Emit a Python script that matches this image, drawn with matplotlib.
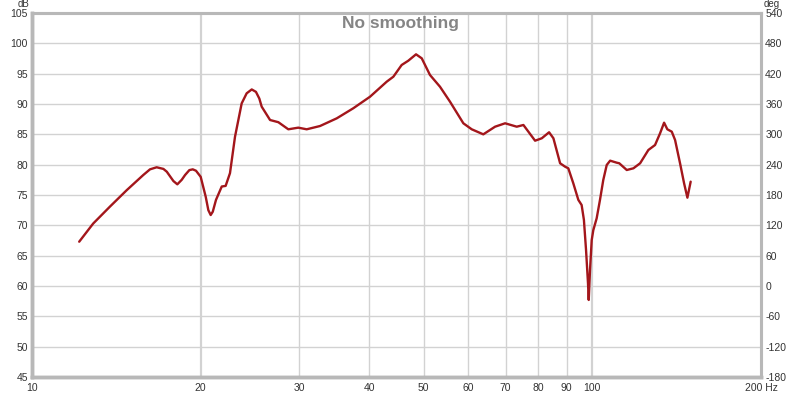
import matplotlib
matplotlib.use("Agg")
import matplotlib.pyplot as plt

freq_hz = [12.14, 12.86, 13.78, 14.76, 15.80, 16.24, 16.69, 17.16, 17.40, 17.88,
           18.17, 18.50, 18.76, 19.09, 19.36, 19.62, 20.0, 20.42, 20.64, 20.84,
           21.02, 21.30, 21.81, 22.16, 22.56, 23.03, 23.67, 24.16, 24.67, 25.10,
           25.45, 25.70, 26.60, 27.52, 28.67, 29.87, 30.92, 32.66, 34.99, 37.45,
           40.11, 42.96, 44.15, 45.68, 46.95, 48.46, 49.61, 51.32, 53.47, 55.72,
           58.86, 60.92, 63.89, 67.06, 69.88, 73.30, 75.34, 79.04, 81.25, 83.72,
           85.22, 87.60, 89.40, 90.60, 92.48, 94.41, 95.70, 96.60, 97.45, 98.24,
           98.53, 99.06, 99.75, 100.4, 101.8, 103.2, 104.6, 106.1, 107.6, 110.5,
           111.7, 115.2, 118.4, 121.7, 125.9, 129.4, 132.1, 134.3, 136.1, 138.6,
           140.5, 143.4, 145.8, 147.8, 149.8]
spl_db = [67.3, 70.3, 73.1, 75.8, 78.3, 79.23, 79.57, 79.3, 78.84, 77.3,
          76.76, 77.5, 78.3, 79.1, 79.23, 79.0, 78.0, 74.7, 72.5, 71.7,
          72.25, 74.2, 76.4, 76.5, 78.6, 84.6, 90.1, 91.76, 92.4, 92.0,
          90.9, 89.56, 87.36, 87.0, 85.83, 86.1, 85.83, 86.37, 87.64, 89.3,
          91.2, 93.68, 94.5, 96.43, 97.14, 98.19, 97.53, 94.78, 92.85, 90.38,
          86.82, 85.83, 85.0, 86.26, 86.82, 86.26, 86.54, 83.95, 84.35, 85.34,
          84.35, 80.23, 79.67, 79.4, 76.93, 74.2, 73.35, 70.9, 65.94, 60.45,
          57.7, 62.64, 67.58, 69.2, 71.16, 74.2, 77.47, 79.95, 80.66, 80.33,
          80.23, 79.12, 79.4, 80.23, 82.42, 83.24, 85.17, 86.92, 85.83, 85.44,
          84.07, 80.23, 76.93, 74.56, 77.2]

x_ticks = [10, 20, 30, 40, 50, 60, 70, 80, 90, 100, 200]
x_labels = ["10", "20", "30", "40", "50", "60", "70", "80", "90", "100", "200 Hz"]
y_ticks = [45, 50, 55, 60, 65, 70, 75, 80, 85, 90, 95, 100, 105]
deg_ticks = [-180, -120, -60, 0, 60, 120, 180, 240, 300, 360, 420, 480, 540]

plt.rcParams['font.family'] = ['Liberation Sans', 'DejaVu Sans']
plt.rcParams['axes.unicode_minus'] = False

fig = plt.figure(figsize=(8, 3.94), dpi=100)
ax = fig.add_axes([32/800, 17/394, 729/800, 364/394])
ax.set_xscale('log')
ax.set_xlim(10, 200)
ax.set_ylim(45, 105)

grid_c = '#d2d2d2'
for xv in x_ticks:
    lw = 1.6 if xv in (20, 100) else 1.0
    ax.axvline(xv, color=grid_c, lw=lw, zorder=0)
for yv in y_ticks:
    ax.axhline(yv, color=grid_c, lw=1.0, zorder=0)

ax.plot(freq_hz, spl_db, color='#a3161b', lw=1.7, zorder=3,
        solid_joinstyle='round', solid_capstyle='round')

ax.set_xticks(x_ticks)
ax.set_xticklabels(x_labels)
ax.xaxis.set_minor_locator(matplotlib.ticker.NullLocator())
ax.set_yticks(y_ticks)
ax.tick_params(axis='both', length=0, labelsize=7.5, colors='#333333')
ax.tick_params(axis='x', pad=4)
ax.tick_params(axis='y', pad=3)

ax2 = ax.twinx()
ax2.set_ylim(-180, 540)
ax2.set_yticks(deg_ticks)
ax2.tick_params(axis='y', length=0, labelsize=7.5, colors='#333333', pad=3)

for a in (ax, ax2):
    for s in a.spines.values():
        s.set_color('#b8b8b8')
    a.spines['left'].set_linewidth(2.5)
    a.spines['bottom'].set_linewidth(2.5)
    a.spines['top'].set_linewidth(2.2)
    a.spines['right'].set_linewidth(2.2)

fig.text(29/800, 1 - 4/394, 'dB', ha='right', va='center', fontsize=7, color='#333333')
fig.text(764/800, 1 - 4/394, 'deg', ha='left', va='center', fontsize=7, color='#333333')
ax.text(0.505, 0.993, 'No smoothing', transform=ax.transAxes, ha='center', va='top',
        fontsize=12.5, fontweight='bold', color='#858585', zorder=5)

fig.savefig('out.png', dpi=100, facecolor='white')
